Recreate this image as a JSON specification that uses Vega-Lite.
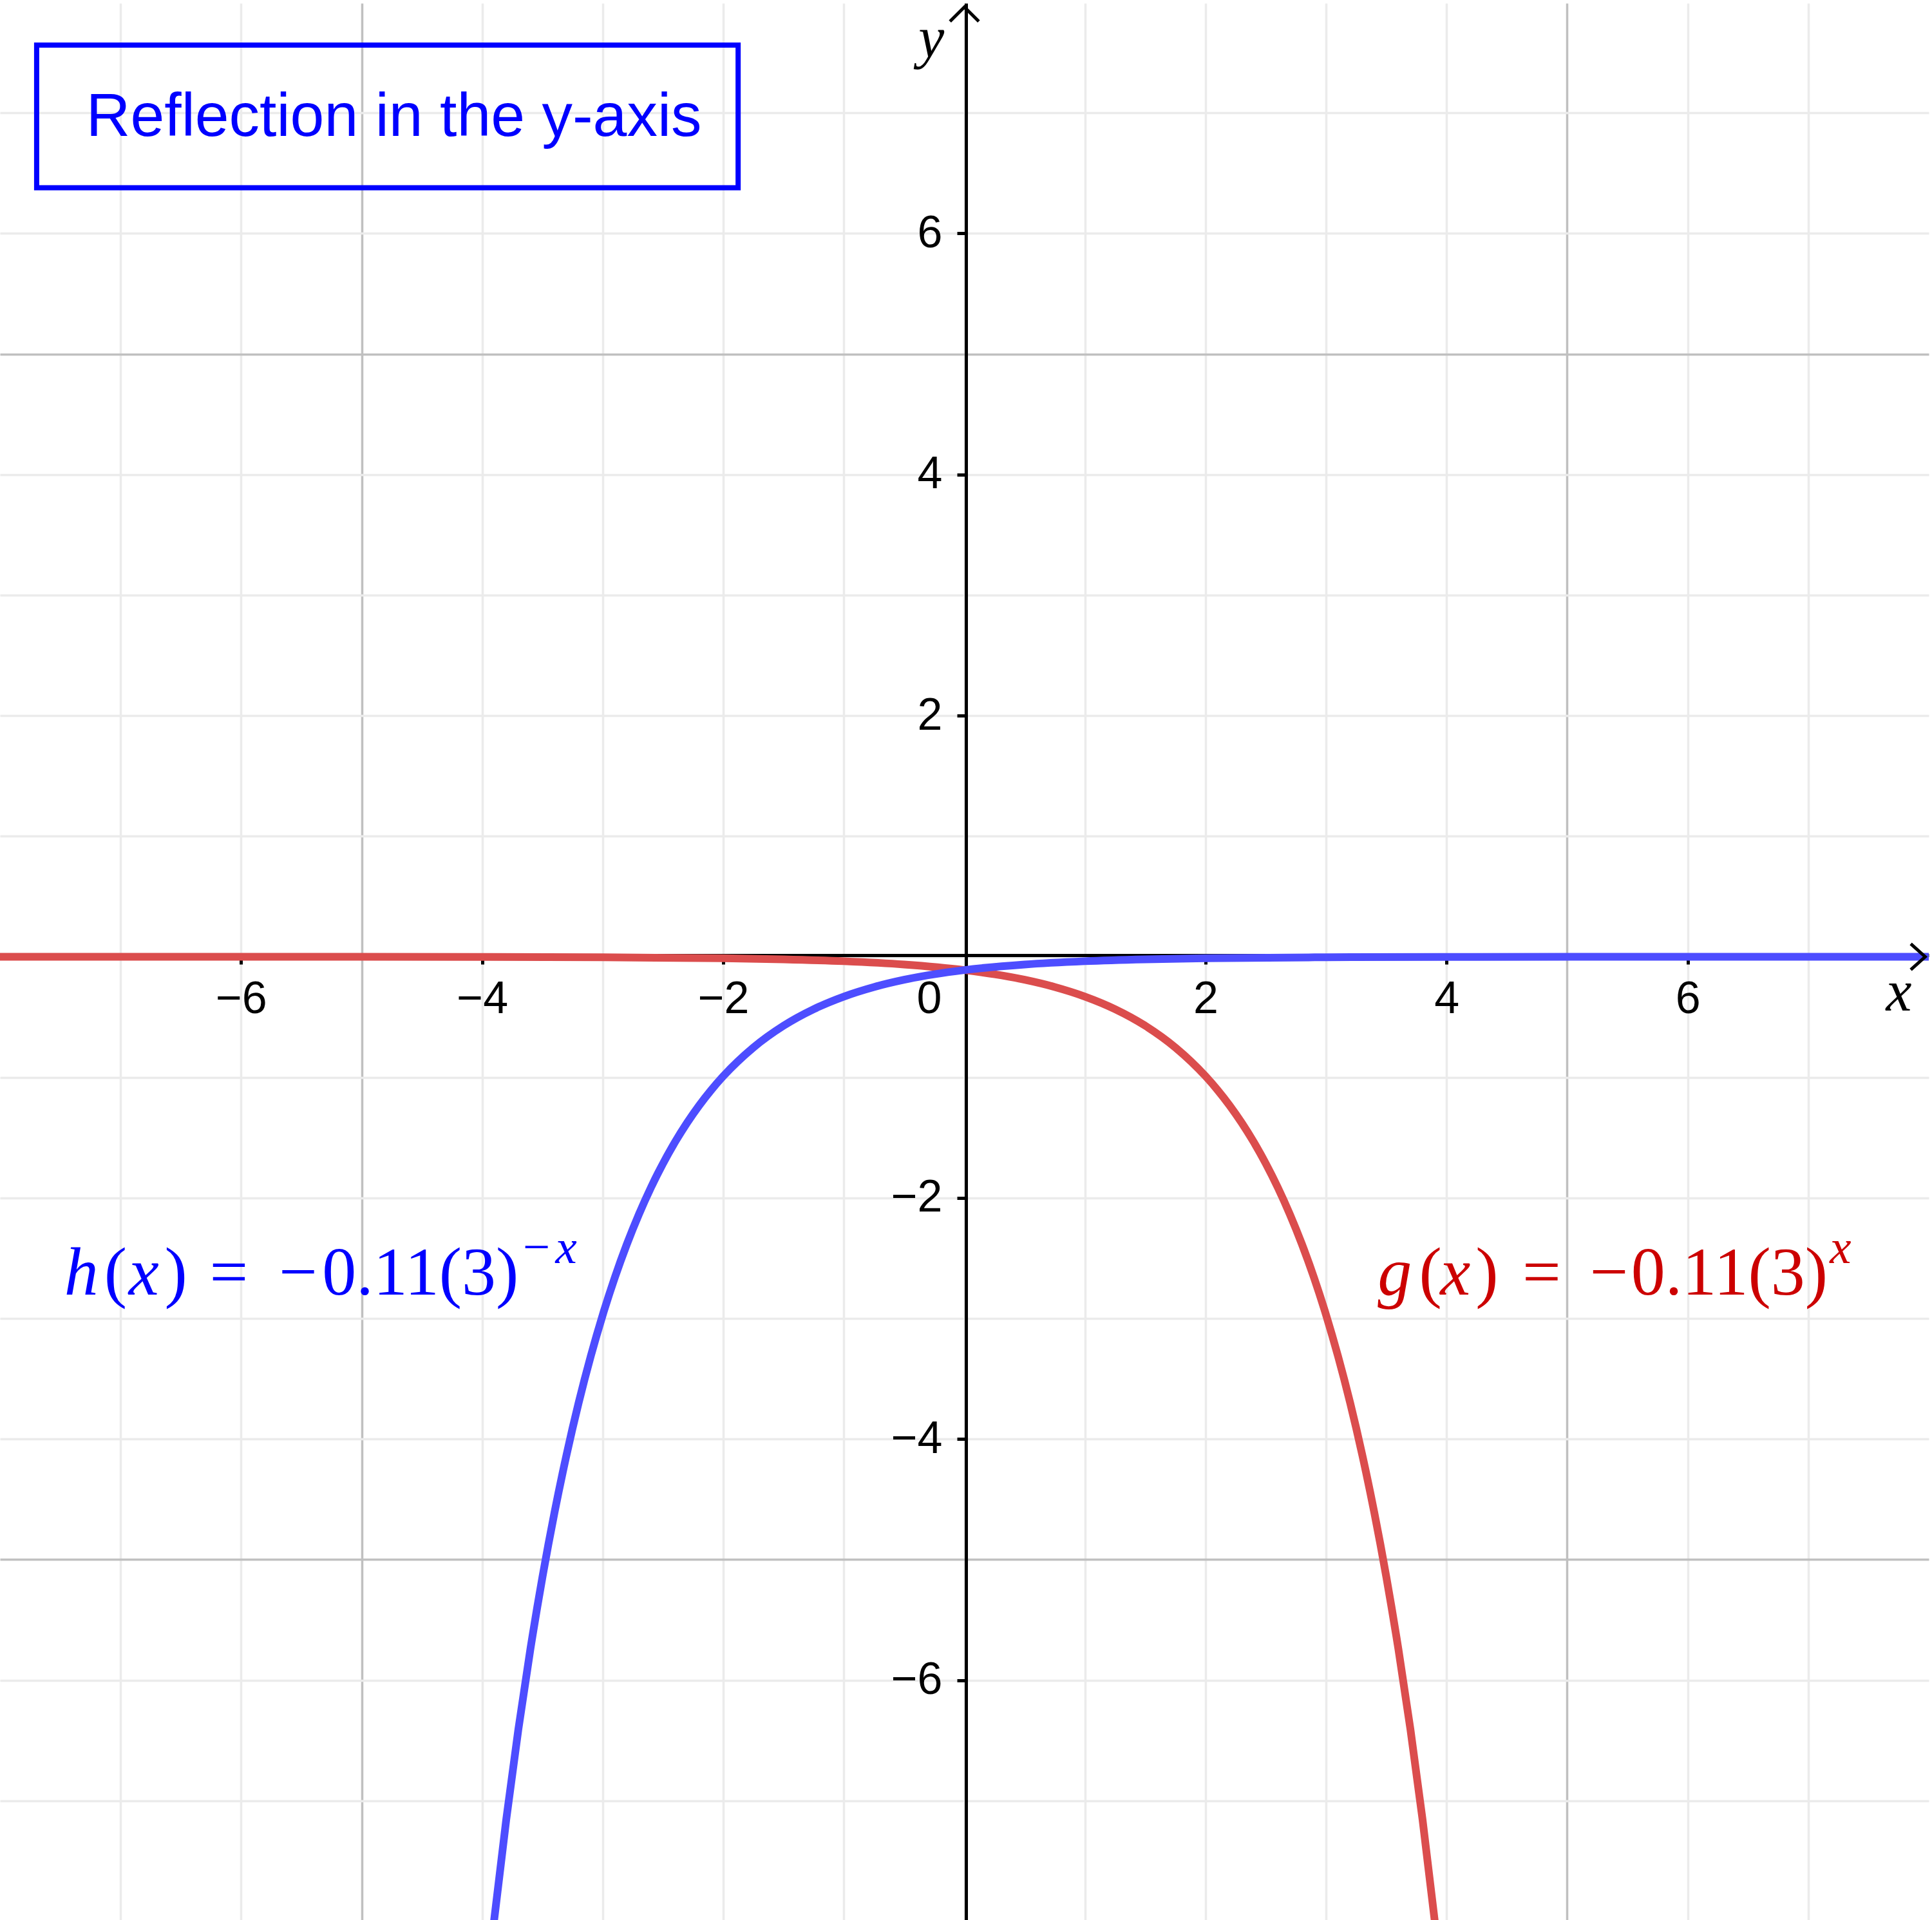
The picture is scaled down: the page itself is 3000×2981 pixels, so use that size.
{
  "$schema": "https://vega.github.io/schema/vega-lite/v6.json",
  "width": 3000,
  "height": 2981,
  "autosize": {"type": "fit", "contains": "padding"},
  "padding": 0,
  "background": "white",
  "config": {"view": {"stroke": null}},
  "datasets": {
    "curves": [
      {"fn": "g", "x": -8, "y": -0.00002},
      {"fn": "g", "x": -6, "y": -0.00015},
      {"fn": "g", "x": -4, "y": -0.00136},
      {"fn": "g", "x": -3, "y": -0.00407},
      {"fn": "g", "x": -2, "y": -0.01222},
      {"fn": "g", "x": -1.5, "y": -0.02117},
      {"fn": "g", "x": -1, "y": -0.03667},
      {"fn": "g", "x": -0.5, "y": -0.06351},
      {"fn": "g", "x": 0, "y": -0.11},
      {"fn": "g", "x": 0.25, "y": -0.14477},
      {"fn": "g", "x": 0.5, "y": -0.19053},
      {"fn": "g", "x": 0.75, "y": -0.25075},
      {"fn": "g", "x": 1, "y": -0.33},
      {"fn": "g", "x": 1.25, "y": -0.4343},
      {"fn": "g", "x": 1.5, "y": -0.57158},
      {"fn": "g", "x": 1.75, "y": -0.75224},
      {"fn": "g", "x": 2, "y": -0.99},
      {"fn": "g", "x": 2.1, "y": -1.10496},
      {"fn": "g", "x": 2.2, "y": -1.23327},
      {"fn": "g", "x": 2.3, "y": -1.37649},
      {"fn": "g", "x": 2.4, "y": -1.53633},
      {"fn": "g", "x": 2.5, "y": -1.71473},
      {"fn": "g", "x": 2.6, "y": -1.91385},
      {"fn": "g", "x": 2.7, "y": -2.13609},
      {"fn": "g", "x": 2.8, "y": -2.38414},
      {"fn": "g", "x": 2.9, "y": -2.661},
      {"fn": "g", "x": 3, "y": -2.97},
      {"fn": "g", "x": 3.1, "y": -3.31489},
      {"fn": "g", "x": 3.2, "y": -3.69982},
      {"fn": "g", "x": 3.3, "y": -4.12946},
      {"fn": "g", "x": 3.4, "y": -4.60898},
      {"fn": "g", "x": 3.5, "y": -5.14419},
      {"fn": "g", "x": 3.6, "y": -5.74155},
      {"fn": "g", "x": 3.7, "y": -6.40828},
      {"fn": "g", "x": 3.8, "y": -7.15243},
      {"fn": "g", "x": 3.9, "y": -7.98299},
      {"fn": "g", "x": 4, "y": -8.91},
      {"fn": "h", "x": -4, "y": -8.91},
      {"fn": "h", "x": -3.9, "y": -7.98299},
      {"fn": "h", "x": -3.8, "y": -7.15243},
      {"fn": "h", "x": -3.7, "y": -6.40828},
      {"fn": "h", "x": -3.6, "y": -5.74155},
      {"fn": "h", "x": -3.5, "y": -5.14419},
      {"fn": "h", "x": -3.4, "y": -4.60898},
      {"fn": "h", "x": -3.3, "y": -4.12946},
      {"fn": "h", "x": -3.2, "y": -3.69982},
      {"fn": "h", "x": -3.1, "y": -3.31489},
      {"fn": "h", "x": -3, "y": -2.97},
      {"fn": "h", "x": -2.9, "y": -2.661},
      {"fn": "h", "x": -2.8, "y": -2.38414},
      {"fn": "h", "x": -2.7, "y": -2.13609},
      {"fn": "h", "x": -2.6, "y": -1.91385},
      {"fn": "h", "x": -2.5, "y": -1.71473},
      {"fn": "h", "x": -2.4, "y": -1.53633},
      {"fn": "h", "x": -2.3, "y": -1.37649},
      {"fn": "h", "x": -2.2, "y": -1.23327},
      {"fn": "h", "x": -2.1, "y": -1.10496},
      {"fn": "h", "x": -2, "y": -0.99},
      {"fn": "h", "x": -1.75, "y": -0.75224},
      {"fn": "h", "x": -1.5, "y": -0.57158},
      {"fn": "h", "x": -1.25, "y": -0.4343},
      {"fn": "h", "x": -1, "y": -0.33},
      {"fn": "h", "x": -0.75, "y": -0.25075},
      {"fn": "h", "x": -0.5, "y": -0.19053},
      {"fn": "h", "x": -0.25, "y": -0.14477},
      {"fn": "h", "x": 0, "y": -0.11},
      {"fn": "h", "x": 0.5, "y": -0.06351},
      {"fn": "h", "x": 1, "y": -0.03667},
      {"fn": "h", "x": 1.5, "y": -0.02117},
      {"fn": "h", "x": 2, "y": -0.01222},
      {"fn": "h", "x": 3, "y": -0.00407},
      {"fn": "h", "x": 4, "y": -0.00136},
      {"fn": "h", "x": 6, "y": -0.00015},
      {"fn": "h", "x": 8, "y": -0.00002}
    ],
    "box": [{"x": -7.696, "y": 7.563, "x2": -1.877, "y2": 6.379}],
    "title": [{"x": -7.285, "y": 6.811, "label": "Reflection in the y-axis"}],
    "arrows": [
      {"dir": "up", "x": 0, "y": 7.878},
      {"dir": "right", "x": 7.97, "y": 0}
    ],
    "axisNames": [
      {"x": -0.38, "y": 7.462, "label": "y"},
      {"x": 7.645, "y": -0.447, "label": "x"}
    ],
    "mathItalic": [
      {"fn": "h", "x": -7.467, "y": -2.8, "label": "h"},
      {"fn": "h", "x": -6.933, "y": -2.8, "label": "x"},
      {"fn": "g", "x": 3.429, "y": -2.8, "label": "g"},
      {"fn": "g", "x": 3.947, "y": -2.8, "label": "x"}
    ],
    "mathUpright": [
      {"fn": "h", "x": -7.136, "y": -2.8, "label": "("},
      {"fn": "h", "x": -6.635, "y": -2.8, "label": ")"},
      {"fn": "h", "x": -6.261, "y": -2.8, "label": "="},
      {"fn": "h", "x": -5.685, "y": -2.8, "label": "−"},
      {"fn": "h", "x": -5.328, "y": -2.8, "label": "0.11(3)"},
      {"fn": "g", "x": 3.771, "y": -2.8, "label": "("},
      {"fn": "g", "x": 4.24, "y": -2.8, "label": ")"},
      {"fn": "g", "x": 4.629, "y": -2.8, "label": "="},
      {"fn": "g", "x": 5.189, "y": -2.8, "label": "−"},
      {"fn": "g", "x": 5.531, "y": -2.8, "label": "0.11(3)"}
    ],
    "supUpright": [
      {"fn": "h", "x": -3.664, "y": -2.54, "label": "−"}
    ],
    "supItalic": [
      {"fn": "h", "x": -3.392, "y": -2.54, "label": "x"},
      {"fn": "g", "x": 7.179, "y": -2.54, "label": "x"}
    ]
  },
  "encoding": {
    "x": {
      "field": "x",
      "type": "quantitative",
      "scale": {"domain": [-8, 8], "nice": false, "zero": false},
      "axis": {
        "orient": "bottom",
        "offset": -1498,
        "title": null,
        "values": [-7, -6, -5, -4, -3, -2, -1, 0, 1, 2, 3, 4, 5, 6, 7],
        "grid": true,
        "gridColor": {"condition": {"test": "abs(datum.value) === 5", "value": "#c0c0c0"}, "value": "#ebebeb"},
        "gridWidth": 3.5,
        "domainColor": "black",
        "domainWidth": 5,
        "tickColor": "black",
        "tickWidth": 5,
        "tickSize": 14,
        "tickOpacity": {"condition": {"test": "datum.value % 2 !== 0 || datum.value === 0", "value": 0}, "value": 1},
        "labelExpr": "(datum.value % 2 !== 0) ? '' : datum.label",
        "labelOffset": {"condition": {"test": "datum.value === 0", "value": -55}, "value": 0},
        "labelFont": "Liberation Sans",
        "labelFontSize": 70,
        "labelColor": "black",
        "labelPadding": 20,
        "labelFlush": false,
        "labelOverlap": false
      }
    },
    "y": {
      "field": "y",
      "type": "quantitative",
      "scale": {"domain": [-7.99, 7.91], "nice": false, "zero": false},
      "axis": {
        "orient": "left",
        "offset": -1500,
        "title": null,
        "values": [-7, -6, -5, -4, -3, -2, -1, 0, 1, 2, 3, 4, 5, 6, 7],
        "grid": true,
        "gridColor": {"condition": {"test": "abs(datum.value) === 5", "value": "#c0c0c0"}, "value": "#ebebeb"},
        "gridWidth": 3.5,
        "domainColor": "black",
        "domainWidth": 5,
        "tickColor": "black",
        "tickWidth": 5,
        "tickSize": 14,
        "tickOpacity": {"condition": {"test": "datum.value % 2 !== 0 || datum.value === 0", "value": 0}, "value": 1},
        "labelExpr": "(datum.value % 2 !== 0 || datum.value === 0) ? '' : datum.label",
        "labelFont": "Liberation Sans",
        "labelFontSize": 70,
        "labelColor": "black",
        "labelPadding": 23,
        "labelFlush": false,
        "labelOverlap": false
      }
    }
  },
  "layer": [
    {
      "data": {"name": "box"},
      "mark": {"type": "rect", "filled": false, "stroke": "#0000ff", "strokeWidth": 8},
      "encoding": {"x2": {"field": "x2"}, "y2": {"field": "y2"}}
    },
    {
      "data": {"name": "title"},
      "mark": {"type": "text", "align": "left", "baseline": "alphabetic", "font": "Liberation Sans", "fontSize": 95, "color": "#0000ff"},
      "encoding": {"text": {"field": "label"}}
    },
    {
      "data": {"name": "curves"},
      "mark": {"type": "line", "strokeWidth": 12, "clip": true, "interpolate": "monotone"},
      "encoding": {
        "color": {
          "field": "fn",
          "type": "nominal",
          "scale": {"domain": ["g", "h"], "range": ["#db4d4d", "#4d4dff"]},
          "legend": null
        }
      }
    },
    {
      "data": {"name": "arrows"},
      "mark": {"type": "point", "filled": false, "color": "black", "strokeWidth": 5, "size": 2000, "opacity": 1},
      "encoding": {
        "shape": {
          "field": "dir",
          "type": "nominal",
          "scale": {"domain": ["up", "right"], "range": ["M-1,1L0,0L1,1", "M-1,-0.9L0,0L-1,0.9"]},
          "legend": null
        }
      }
    },
    {
      "data": {"name": "axisNames"},
      "mark": {"type": "text", "align": "left", "baseline": "alphabetic", "font": "Liberation Serif", "fontStyle": "italic", "fontSize": 90, "color": "black"},
      "encoding": {"text": {"field": "label"}}
    },
    {
      "data": {"name": "mathItalic"},
      "mark": {"type": "text", "align": "left", "baseline": "alphabetic", "font": "Liberation Serif", "fontStyle": "italic", "fontSize": 106},
      "encoding": {
        "text": {"field": "label"},
        "color": {"condition": {"test": "datum.fn === 'g'", "value": "#cc0000"}, "value": "#0000ff"}
      }
    },
    {
      "data": {"name": "mathUpright"},
      "mark": {"type": "text", "align": "left", "baseline": "alphabetic", "font": "Liberation Serif", "fontSize": 106},
      "encoding": {
        "text": {"field": "label"},
        "color": {"condition": {"test": "datum.fn === 'g'", "value": "#cc0000"}, "value": "#0000ff"}
      }
    },
    {
      "data": {"name": "supUpright"},
      "mark": {"type": "text", "align": "left", "baseline": "alphabetic", "font": "Liberation Serif", "fontSize": 75},
      "encoding": {
        "text": {"field": "label"},
        "color": {"condition": {"test": "datum.fn === 'g'", "value": "#cc0000"}, "value": "#0000ff"}
      }
    },
    {
      "data": {"name": "supItalic"},
      "mark": {"type": "text", "align": "left", "baseline": "alphabetic", "font": "Liberation Serif", "fontStyle": "italic", "fontSize": 75},
      "encoding": {
        "text": {"field": "label"},
        "color": {"condition": {"test": "datum.fn === 'g'", "value": "#cc0000"}, "value": "#0000ff"}
      }
    }
  ]
}
